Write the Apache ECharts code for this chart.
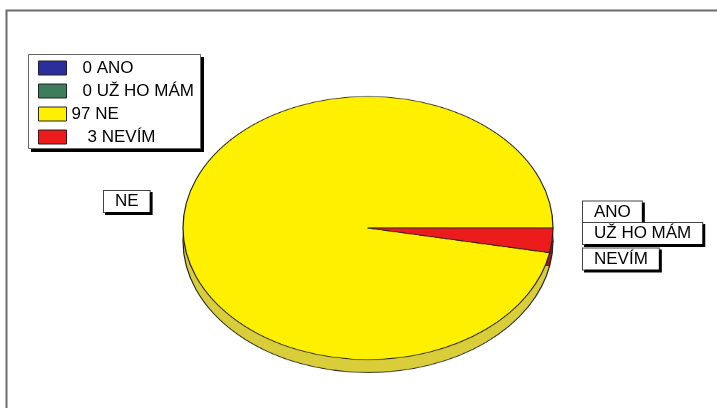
<!DOCTYPE html>
<html>
<head>
<meta charset="utf-8">
<script src="https://cdn.jsdelivr.net/npm/echarts@6/dist/echarts.min.js"></script>
<style>
html, body { margin: 0; padding: 0; background: #fff; }
.stage { position: relative; width: 717px; height: 408px; overflow: hidden; }
/* pie is drawn round, then squashed to the ellipse of the original */
#pie { position: absolute; left: 0; top: 0; width: 717px; height: 520px; transform: scaleY(0.711); transform-origin: 0 228px; }
#front { position: absolute; left: 0; top: 0; width: 717px; height: 408px; }
</style>
</head>
<body>
<div class="stage">
  <div id="pie"></div>
  <div id="front"></div>
</div>
<script>
const categories = ['ANO', 'UŽ HO MÁM', 'NE', 'NEVÍM']
const values = [0, 0, 97, 3]

const topColors = ['#2b2f9c', '#3d7d5e', '#fff000', '#ec1c1c']
const sideColors = ['#1d206a', '#2a5a42', '#dacd3a', '#a81616']

const FONT = '"Liberation Sans", Arial, sans-serif'

const pieChart = echarts.init(document.getElementById('pie'), null, { renderer: 'canvas' })
const frontChart = echarts.init(document.getElementById('front'), null, { renderer: 'canvas' })

function pieData (colors) {
  return categories.map((name, i) => ({
    name: name,
    value: values[i],
    itemStyle: { color: colors[i] }
  }))
}

const baseSeries = {
  type: 'pie',
  radius: 185,
  startAngle: 0,
  clockwise: false,
  silent: true,
  animation: false,
  label: { show: false },
  labelLine: { show: false },
  emphasis: { disabled: true },
  itemStyle: { borderColor: '#222', borderWidth: 1.2 }
}

pieChart.setOption({
  animation: false,
  series: [
    // side of the disc
    Object.assign({}, baseSeries, { center: [368, 246.3], data: pieData(sideColors), z: 1 }),
    // top face
    Object.assign({}, baseSeries, { center: [368, 228], data: pieData(topColors), z: 2 })
  ]
})

// label boxes: left edge x, middle y
const labelPos = [[583, 212], [583, 233.5], [104, 201.5], [583, 259]]

frontChart.setOption({
  animation: false,
  graphic: [
    {
      type: 'polyline',
      silent: true,
      shape: { points: [[6.5, 408], [6.5, 10.5], [717, 10.5]] },
      style: { stroke: '#6c6c6c', lineWidth: 2, fill: null }
    },
    // legend box: black drop shadow, then the white box
    {
      type: 'rect',
      silent: true,
      z: 0,
      shape: { x: 31, y: 57, width: 173, height: 95 },
      style: { fill: '#000' }
    },
    {
      type: 'rect',
      silent: true,
      z: 1,
      shape: { x: 28.5, y: 54.5, width: 172, height: 94 },
      style: { fill: '#fff', stroke: '#666', lineWidth: 1 }
    }
  ],
  legend: {
    orient: 'vertical',
    left: 28,
    top: 54,
    z: 5,
    selectedMode: false,
    itemWidth: 28,
    itemHeight: 14,
    itemGap: 3,
    padding: [4, 6, 2, 10],
    data: categories.map((name, i) => ({
      name: name,
      icon: 'rect',
      itemStyle: { color: topColors[i], borderColor: '#222', borderWidth: 1, opacity: 1 }
    })),
    formatter: function (name) {
      const i = categories.indexOf(name)
      const pad = ['g11', 'g11', null, 'g16'][i]
      const txt = '{t|' + values[i] + ' ' + name + '}'
      return pad ? '{' + pad + '| }' + txt : txt
    },
    textStyle: {
      fontFamily: FONT,
      fontSize: 17,
      color: '#000',
      lineHeight: 20,
      rich: {
        g11: { width: 11, fontSize: 17, fontFamily: FONT, lineHeight: 20 },
        g16: { width: 16, fontSize: 17, fontFamily: FONT, lineHeight: 20 },
        t: { fontSize: 17, fontFamily: FONT, color: '#000', lineHeight: 20 }
      }
    }
  },
  series: [
    {
      type: 'pie',
      center: [368, 228],
      radius: 185,
      startAngle: 0,
      clockwise: false,
      silent: true,
      data: categories.map((name, i) => ({
        name: name,
        value: values[i],
        itemStyle: { color: 'rgba(0,0,0,0)', borderWidth: 0 }
      })),
      label: {
        show: true,
        position: 'outside',
        formatter: '{b}',
        overflow: 'none',
        bleedMargin: 0,
        fontFamily: FONT,
        fontSize: 17,
        lineHeight: 19,
        color: '#000',
        backgroundColor: '#fff',
        borderColor: '#444',
        borderWidth: 1,
        padding: [1, 11, 1, 11],
        shadowColor: '#000',
        shadowBlur: 0,
        shadowOffsetX: 2,
        shadowOffsetY: 2
      },
      labelLine: { show: false, length: 0, length2: 0 },
      emphasis: { disabled: true },
      labelLayout: function (params) {
        const p = labelPos[params.dataIndex]
        return { x: p[0], y: p[1], align: 'left', verticalAlign: 'middle', hideOverlap: false, moveOverlap: null }
      }
    }
  ]
})
</script>
</body>
</html>
